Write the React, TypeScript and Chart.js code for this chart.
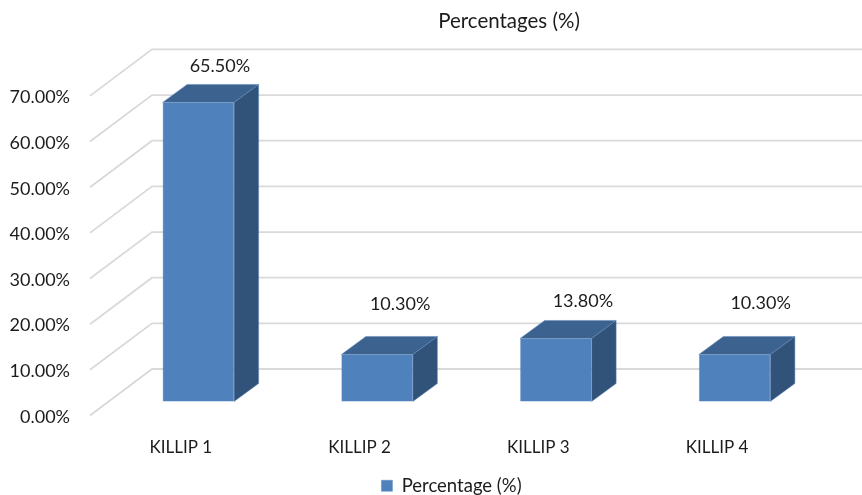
import React, { useEffect, useRef } from "react";
import { Chart, registerables } from "chart.js";

Chart.register(...registerables);

const categories = ["KILLIP 1", "KILLIP 2", "KILLIP 3", "KILLIP 4"];
const percentages = [65.5, 10.3, 13.8, 10.3];
const axisTicks = [0, 10, 20, 30, 40, 50, 60, 70];
const seriesName = "Percentage (%)";
const chartTitle = "Percentages (%)";

// Hand-placed data label nudges relative to each bar's top-front centre.
const labelNudgeX = [21.5, 23, 27, 26];
const labelNudgeY = [-36, -50, -37, -51];

const FONT = "Lato, Carlito, Calibri, sans-serif";
const TEXT = "#1c1c1c";
const FRONT = "#4f81bd";
const TOP = "#3c6390";
const SIDE = "#325379";
const EDGE = "#5f8abf";
const GRID = "#d9d9d9";

// Pseudo-3D geometry, in pixels.
const WIDTH = 862;
const HEIGHT = 495;
const WALL_DX = 62;
const WALL_DY = 46.5;
const WALL_INSET = 19;
const BAR_DX = 24.5;
const BAR_DY = 18;
const BAR_LIFT = 14;
const PX_PER_UNIT = 4.55;
const TITLE_CENTER = 509;
const LEGEND_CENTER = 451.5;
const LEGEND_DROP = 10;

const face = (ctx: CanvasRenderingContext2D, pts: number[][], fill: string) => {
  ctx.beginPath();
  pts.forEach(([x, y], i) => (i ? ctx.lineTo(x, y) : ctx.moveTo(x, y)));
  ctx.closePath();
  ctx.fillStyle = fill;
  ctx.fill();
  ctx.lineWidth = 0.5;
  ctx.strokeStyle = EDGE;
  ctx.stroke();
};

const moveBox = (box: any, center: number) => {
  const half = (box.right - box.left) / 2;
  box.left = center - half;
  box.right = center + half;
};

const depthPlugin = {
  id: "depth",
  afterLayout(chart: any) {
    moveBox(chart.titleBlock, TITLE_CENTER);
    moveBox(chart.legend, LEGEND_CENTER);
    chart.legend.top += LEGEND_DROP;
    chart.legend.bottom += LEGEND_DROP;
  },
  beforeDatasetsDraw(chart: any) {
    const { ctx, scales, chartArea } = chart;
    ctx.save();
    ctx.strokeStyle = GRID;
    ctx.lineWidth = 1.8;
    const frontX = chartArea.left - WALL_INSET;
    axisTicks.forEach((t) => {
      const y = scales.y.getPixelForValue(t);
      ctx.beginPath();
      ctx.moveTo(frontX, y);
      ctx.lineTo(frontX + WALL_DX, y - WALL_DY);
      ctx.lineTo(WIDTH, y - WALL_DY);
      ctx.stroke();
    });
    const bars = chart.getDatasetMeta(0).data;
    bars.forEach((bar: any) => {
      const { x, y, base, width } = bar.getProps(["x", "y", "base", "width"], true);
      const l = x - width / 2;
      const r = x + width / 2;
      face(ctx, [[l, y], [r, y], [r + BAR_DX, y - BAR_DY], [l + BAR_DX, y - BAR_DY]], TOP);
      face(ctx, [[r, y], [r + BAR_DX, y - BAR_DY], [r + BAR_DX, base - BAR_DY], [r, base]], SIDE);
    });
    ctx.restore();
  },
  afterDatasetsDraw(chart: any) {
    const { ctx } = chart;
    ctx.save();
    ctx.font = `18px ${FONT}`;
    ctx.fillStyle = TEXT;
    ctx.textAlign = "center";
    ctx.textBaseline = "middle";
    chart.getDatasetMeta(0).data.forEach((bar: any, i: number) => {
      const { x, y } = bar.getProps(["x", "y"], true);
      ctx.fillText(`${percentages[i].toFixed(2)}%`, x + labelNudgeX[i], y + labelNudgeY[i]);
    });
    ctx.restore();
  },
};

export default function App() {
  const ref = useRef<HTMLCanvasElement>(null);
  useEffect(() => {
    const chart = new Chart(ref.current as HTMLCanvasElement, {
      type: "bar",
      data: {
        labels: categories,
        datasets: [
          {
            label: seriesName,
            data: percentages,
            yAxisID: "bars",
            backgroundColor: FRONT,
            borderColor: EDGE,
            borderWidth: 0.5,
            barPercentage: 0.4,
            categoryPercentage: 1,
          },
        ],
      },
      options: {
        responsive: false,
        animation: false,
        layout: { padding: { left: 0, right: 38, top: 0, bottom: 0 } },
        scales: {
          x: {
            offset: true,
            grid: { display: false },
            border: { display: false },
            afterFit: (s: any) => {
              s.height = 50;
            },
            ticks: {
              padding: 14,
              labelOffset: -17.5,
              maxRotation: 0,
              color: TEXT,
              font: { family: FONT, size: 17 },
            },
          },
          y: {
            min: 0,
            max: 70,
            grid: { display: false },
            border: { display: false },
            afterFit: (s: any) => {
              s.width = 109;
            },
            afterBuildTicks: (s: any) => {
              s.ticks = axisTicks.map((value) => ({ value }));
            },
            ticks: {
              padding: 31,
              labelOffset: 1.5,
              color: TEXT,
              font: { family: FONT, size: 18 },
              callback: (v: any) => `${Number(v).toFixed(2)}%`,
            },
          },
          // Same pixel scale as "y" with its zero raised to the bar floor.
          bars: {
            display: false,
            min: -BAR_LIFT / PX_PER_UNIT,
            max: 70 - BAR_LIFT / PX_PER_UNIT,
          },
        },
        plugins: {
          tooltip: { enabled: false },
          title: {
            display: true,
            text: chartTitle,
            color: TEXT,
            font: { family: FONT, size: 20.5, weight: "normal" },
            padding: { top: 9, bottom: 62.3 },
          },
          legend: {
            display: true,
            position: "bottom",
            labels: {
              boxWidth: 11,
              boxHeight: 11,
              padding: 1,
              color: TEXT,
              font: { family: FONT, size: 18.5 },
            },
          },
        },
      },
      plugins: [depthPlugin],
    } as any);
    return () => chart.destroy();
  }, []);
  return (
    <canvas
      ref={ref}
      width={WIDTH}
      height={HEIGHT}
      style={{ position: "absolute", left: 0, top: 0, display: "block", background: "#fff" }}
    />
  );
}
